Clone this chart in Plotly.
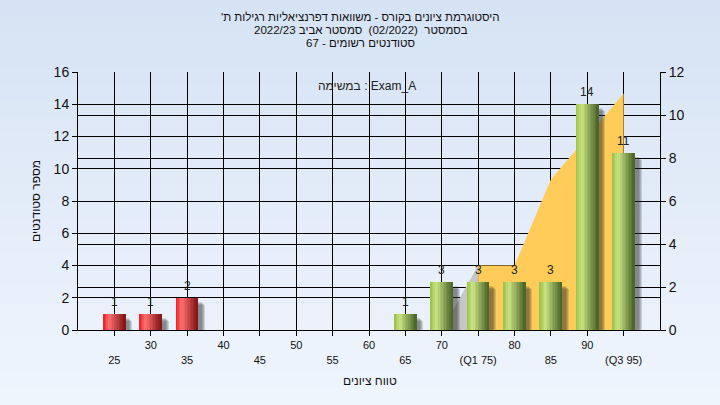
import plotly.graph_objects as go

# ---------------- data ----------------
grades = [25, 30, 35, 40, 45, 50, 55, 60, 65, 70, 75, 80, 85, 90, 95]
counts = [1, 1, 2, 0, 0, 0, 0, 0, 1, 3, 3, 3, 3, 14, 11]
tick_labels = ["25", "30", "35", "40", "45", "50", "55", "60", "65", "70",
               "(Q1 75)", "80", "85", "90", "(Q3 95)"]
area_x = [70, 75, 80, 85, 90, 95]
area_right = [0, 3, 3, 7, 9, 11]          # values on the right axis

RLM = "\u200f"
title_lines = [
    RLM + "היסטוגרמת ציונים בקורס - משוואות דפרנציאליות רגילות ת'" + RLM,
    "בסמסטר  (02/2022)  סמסטר אביב 2022/23",
    "סטודנטים רשומים - 67",
]
x_title = "טווח ציונים"
y_title = "מספר סטודנטים"
exam_label = "במשימה : Exam_A"

LEFT_MAX, RIGHT_MAX = 16, 12
PASS = 55
FONT = "Arial, Liberation Sans, DejaVu Sans, sans-serif"


def mix(a, b, t):
    return "rgb(%d,%d,%d)" % tuple(round(a[i] + (b[i] - a[i]) * t) for i in range(3))


def shade(pal, t):
    left, hi, dark = pal
    if t < 0.27:
        return mix(left, hi, t / 0.27)
    return mix(hi, dark, (t - 0.27) / 0.73)


RED = ((232, 28, 34), (255, 112, 112), (128, 18, 18))
GREEN = ((150, 192, 70), (202, 228, 132), (72, 98, 38))

fig = go.Figure()

# area on the left-axis subplot (scaled from right-axis units) so bars sit above it
scale = LEFT_MAX / RIGHT_MAX
area_left = [v * scale for v in area_right]
fig.add_trace(go.Scatter(x=area_x[:2], y=area_left[:2], mode="none", fill="tozeroy",
                         fillcolor="#C6C6C6", hoverinfo="skip", showlegend=False))
fig.add_trace(go.Scatter(x=area_x[1:], y=area_left[1:], mode="none", fill="tozeroy",
                         fillcolor="#FFCC5A", hoverinfo="skip", showlegend=False))
fig.add_trace(go.Scatter(x=[grades[0]], y=[0], yaxis="y2", mode="markers",
                         marker=dict(opacity=0), hoverinfo="skip", showlegend=False))

BW = 3.0
px = LEFT_MAX / 258.0
for k in range(4):
    fig.add_trace(go.Bar(
        x=grades, y=[max(c - (4 + k) * px, 0) for c in counts], yaxis="y3",
        width=BW, offset=-BW / 2 + 0.55 + 0.14 * k,
        marker=dict(color="rgba(40,40,40,0.16)", line=dict(width=0)),
        hoverinfo="skip", showlegend=False))
N = 14
for k in range(N):
    t = (k + 0.5) / N
    cols = [shade(RED if g < PASS else GREEN, t) for g in grades]
    fig.add_trace(go.Bar(
        x=grades, y=counts, yaxis="y3", width=BW / N * 1.25, offset=-BW / 2 + k * BW / N,
        marker=dict(color=cols, line=dict(width=0)),
        hoverinfo="skip", showlegend=False))

for g, c in zip(grades, counts):
    if c > 0:
        fig.add_annotation(x=g, y=c, yref="y3", text=str(c), showarrow=False, yshift=12,
                           font=dict(family=FONT, size=12, color="#222222"))

for i, line in enumerate(title_lines):
    fig.add_annotation(xref="paper", yref="paper", x=0.486, y=(330 - 17 - 13 * i) / 258.0,
                       text=line, showarrow=False, yanchor="middle",
                       font=dict(family=FONT, size=11.5, color="#111111"))
fig.add_annotation(xref="paper", yref="paper", x=(367 - 78) / 582.0, y=(330 - 86) / 258.0,
                   text=exam_label, showarrow=False, yanchor="middle",
                   font=dict(family=FONT, size=12, color="#222222"))
fig.add_annotation(xref="paper", yref="paper", x=(370 - 78) / 582.0, y=(330 - 381) / 258.0,
                   text=x_title, showarrow=False, yanchor="middle",
                   font=dict(family=FONT, size=12, color="#111111"))

NB = 24
top_c, bot_c = (214, 227, 244), (239, 245, 253)
y0p, y1p = -75 / 258.0, (330) / 258.0
for i in range(NB):
    a = y1p - (y1p - y0p) * i / NB
    b = y1p - (y1p - y0p) * (i + 1) / NB
    fig.add_shape(type="rect", xref="paper", yref="paper", x0=-0.2, x1=1.2, y0=b, y1=a + 0.002,
                  fillcolor=mix(top_c, bot_c, i / (NB - 1)), line=dict(width=0), layer="below")

ticktext = [("\u00a0<br>" + t) if i % 2 == 0 else t for i, t in enumerate(tick_labels)]

fig.update_layout(
    width=720, height=405,
    margin=dict(l=78, r=60, t=72, b=75),
    paper_bgcolor="#E6EEF9", plot_bgcolor="#B3B3B3",
    barmode="overlay", bargap=0, showlegend=False,
    font=dict(family=FONT, color="#111111"),
    xaxis=dict(range=[20, 100], tickmode="array", tickvals=grades, ticktext=ticktext,
               ticks="outside", ticklen=5, tickcolor="black", showgrid=True,
               gridcolor="black", gridwidth=1, showline=True, linecolor="black",
               linewidth=1, zeroline=False, tickfont=dict(size=11)),
    yaxis=dict(range=[0, LEFT_MAX], dtick=2, ticks="outside", ticklen=5, tickcolor="black",
               showgrid=True, gridcolor="black", gridwidth=1, showline=True,
               linecolor="black", zeroline=False, tickfont=dict(size=14),
               title=dict(text=y_title, font=dict(size=12), standoff=10)),
    yaxis2=dict(range=[0, RIGHT_MAX], dtick=2, overlaying="y", side="right",
                ticks="outside", ticklen=5, tickcolor="black", showgrid=True,
                gridcolor="black", gridwidth=1, showline=True, linecolor="black",
                zeroline=False, tickfont=dict(size=14)),
    yaxis3=dict(range=[0, LEFT_MAX], overlaying="y", visible=False, showgrid=False),
)

fig.write_html("out.html", config={"displayModeBar": False},
               post_script="document.body.style.margin='0';")
